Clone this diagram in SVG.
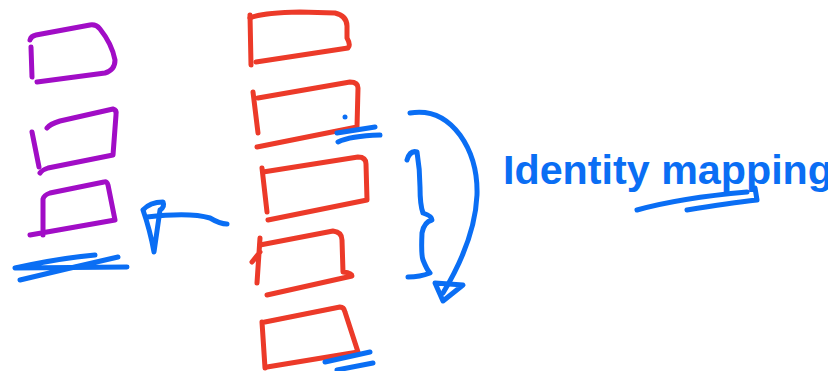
<svg xmlns="http://www.w3.org/2000/svg" width="828" height="371" viewBox="0 0 828 371">
<style>
.s{fill:none;stroke-width:5;stroke-linecap:round;stroke-linejoin:round}
.p{stroke:#A10DC6}
.r{stroke:#EC3A29}
.b{stroke:#0A6EF4}
.t{font-family:"Liberation Sans",Arial,sans-serif;font-size:40px;font-weight:bold;fill:#0A6EF4}
</style>
<rect width="828" height="371" fill="#fff"/>
<g id="purple-1" class="s p">
<path d="M31,47 L32,77"/>
<path d="M30,40 Q31,36 36,35 L90,25 Q96,24 100,29 Q112,44 115,60 Q115,70 105,73 L37,82"/>
</g>
<g id="purple-2" class="s p">
<path d="M32,132 L39,167"/>
<path d="M47,128 Q50,124 60,121 L113,109 Q117,110 116,115 L113,155 L48,168 Q42,170 40,173"/>
</g>
<g id="purple-3" class="s p">
<path d="M43,235 L43,199 Q44,195 50,193 L104,182 Q107,181 108,185 L115,220 L30,235"/>
</g>
<g id="red-1" class="s r">
<path d="M250,15 L251,65"/>
<path d="M250,18 Q260,13 300,12 L335,13 Q347,16 347,26 L347,38 Q351,45 348,48 L256,62"/>
</g>
<g id="red-2" class="s r">
<path d="M253,92 L258,133"/>
<path d="M258,98 L350,82 Q358,82 358,88 L357,127 L257,147"/>
</g>
<g id="red-3" class="s r">
<path d="M262,168 L267,212"/>
<path d="M263,172 L358,157 Q366,157 366,164 L367,200 L268,220"/>
</g>
<g id="red-4" class="s r">
<path d="M260,238 L257,283 M260,252 L252,262"/>
<path d="M260,245 L333,231 Q342,232 342,240 L343,272 Q352,273 352,276 L267,295"/>
</g>
<g id="red-5" class="s r">
<path d="M262,322 L265,368"/>
<path d="M265,322 L340,307 Q344,307 345,312 L358,352 L267,367"/>
</g>
<g id="label">
<text class="t" x="503" y="184" textLength="330" lengthAdjust="spacingAndGlyphs">Identity mapping</text>
</g>
<g id="connectors" class="s b">
<path d="M15,268 Q60,258 95,255 M15,268 L127,267 M20,280 Q70,268 118,257"/>
<path d="M147,217 Q190,212 210,218 Q220,224 227,224"/>
<path d="M143,210 Q150,202 163,202 Q165,207 160,210 L154,252 Q150,230 143,210"/>
<circle cx="345" cy="117" r="2.5" fill="#0A6EF4" stroke="none"/>
<path d="M337,133 L375,127 M338,142 Q350,136 380,135"/>
<path d="M325,362 L370,352 M337,370 L373,363"/>
<path d="M407,160 Q410,150 417,152 Q420,170 420,187 Q420,205 423,213 Q432,216 432,220 Q424,222 422,233 Q421,255 423,260 Q427,270 430,273 Q420,277 408,277"/>
<path d="M410,113 Q440,108 460,135 Q478,160 477,195 Q475,240 443,293"/>
<path d="M435,283 L443,301 L463,285 Z"/>
<path d="M637,210 Q680,198 747,192 M687,210 Q730,203 757,200 L755,188"/>
</g>
</svg>
